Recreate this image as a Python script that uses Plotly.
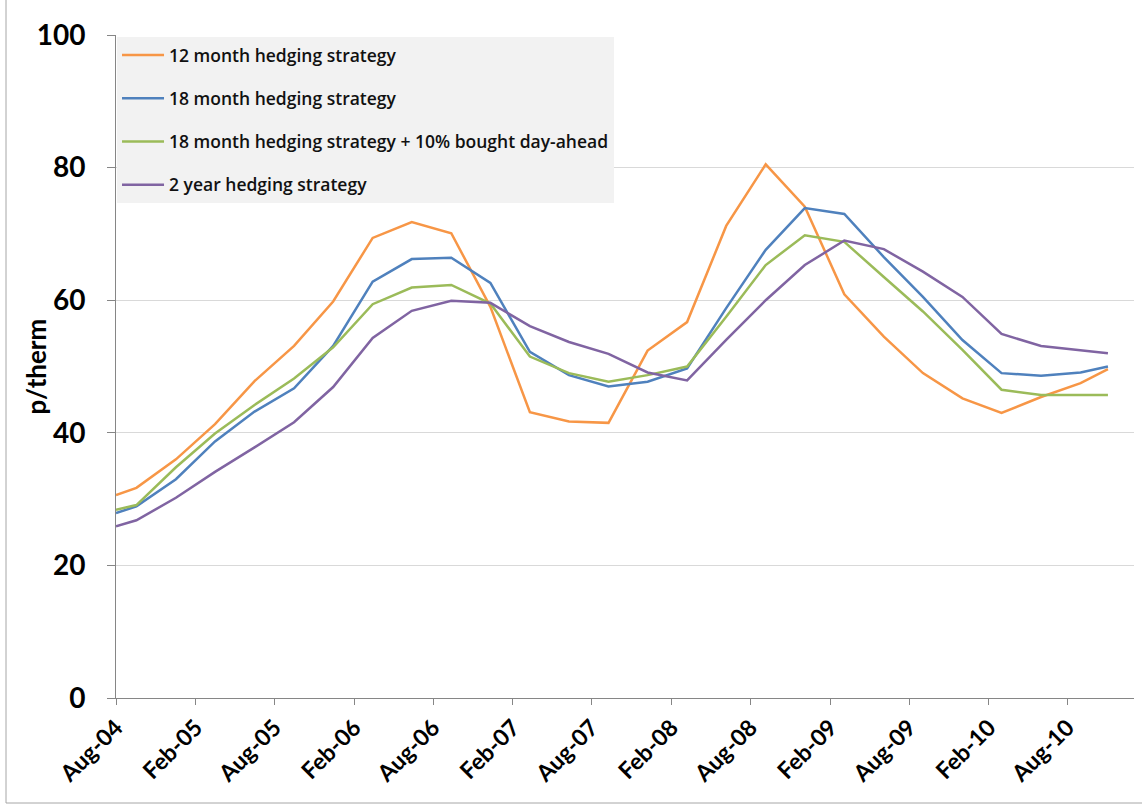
import plotly.graph_objects as go

# Sample dates (roughly quarterly observations)
dates = [
    "2004-08-01", "2004-09-17", "2004-12-17", "2005-03-17", "2005-06-16",
    "2005-09-15", "2005-12-14", "2006-03-15", "2006-06-13", "2006-09-12",
    "2006-12-11", "2007-03-12", "2007-06-10", "2007-09-09", "2007-12-08",
    "2008-03-08", "2008-06-06", "2008-09-05", "2008-12-04", "2009-03-05",
    "2009-06-04", "2009-09-02", "2009-12-02", "2010-03-02", "2010-06-01",
    "2010-08-31", "2010-11-02",
]

# Average cost in p/therm for each hedging strategy
hedge_12m = [
    30.6, 31.7, 36.0, 41.3, 47.8, 53.1, 59.8, 69.4, 71.8, 70.1,
    59.0, 43.1, 41.7, 41.5, 52.4, 56.7, 71.2, 80.5, 74.1, 60.9,
    54.5, 49.0, 45.2, 43.0, 45.4, 47.5, 49.6,
]
hedge_18m = [
    27.9, 28.9, 33.0, 38.7, 43.2, 46.7, 53.1, 62.8, 66.2, 66.4,
    62.6, 52.2, 48.7, 47.0, 47.7, 49.7, 58.8, 67.6, 73.9, 73.0,
    66.5, 60.5, 54.0, 49.0, 48.6, 49.1, 50.0,
]
hedge_18m_da = [
    28.4, 29.1, 34.8, 39.9, 44.2, 48.2, 52.9, 59.4, 61.9, 62.3,
    59.5, 51.5, 49.0, 47.7, 48.7, 50.0, 57.5, 65.3, 69.8, 68.8,
    63.5, 58.3, 52.5, 46.5, 45.7, 45.7, 45.7,
]
hedge_2y = [
    25.9, 26.8, 30.2, 34.1, 37.8, 41.6, 46.9, 54.3, 58.4, 59.9,
    59.6, 56.1, 53.7, 51.9, 49.1, 47.9, 54.0, 60.0, 65.3, 69.0,
    67.7, 64.3, 60.5, 54.9, 53.1, 52.4, 52.0,
]

series_names = [
    "12 month hedging strategy",
    "18 month hedging strategy",
    "18 month hedging strategy + 10% bought day-ahead",
    "2 year hedging strategy",
]
series_values = [hedge_12m, hedge_18m, hedge_18m_da, hedge_2y]
series_colors = ["#F79646", "#4F81BD", "#9BBB59", "#8064A2"]

fig = go.Figure()
for i, (name, vals, col) in enumerate(zip(series_names, series_values, series_colors)):
    fig.add_trace(go.Scatter(
        x=dates, y=vals, mode="lines", name=name,
        legendgroup=f"g{i}",
        line=dict(color=col, width=2.5),
    ))

W, H = 1142, 808
ml, mr, mt, mb = 116, 8, 35, 110
pw, ph = W - ml - mr, H - mt - mb

fig.update_layout(
    width=W, height=H,
    margin=dict(l=ml, r=mr, t=mt, b=mb),
    paper_bgcolor="white",
    plot_bgcolor="white",
    font=dict(family="Lato", color="#000000"),
    showlegend=True,
    legend=dict(
        x=0.001, y=1 - 2 / ph, xanchor="left", yanchor="top",
        bgcolor="#F2F2F2",
        borderwidth=0,
        font=dict(family="Open Sans", size=17.5, color="#111111", weight=600),
        traceorder="grouped",
        tracegroupgap=17.5,
        itemwidth=42,
    ),
    xaxis=dict(
        type="date",
        range=["2004-08-01", "2011-01-01"],
        tick0="2004-08-01",
        dtick="M6",
        tickformat="%b-%y",
        tickangle=-45,
        ticks="outside",
        ticklen=6,
        tickcolor="#868686",
        showline=True,
        linecolor="#868686",
        linewidth=1,
        showgrid=False,
        zeroline=False,
        tickfont=dict(family="Lato", size=23, weight="bold", color="#000000"),
    ),
    yaxis=dict(
        range=[0, 100],
        dtick=20,
        ticks="outside",
        ticklen=8,
        tickcolor="#868686",
        showline=True,
        linecolor="#868686",
        linewidth=1,
        showgrid=True,
        gridcolor="#D9D9D9",
        gridwidth=1,
        zeroline=False,
        ticklabelstandoff=16,
        tickfont=dict(family="Lato", size=28, weight="bold", color="#000000"),
    ),
)

# Y-axis title
fig.add_annotation(
    text="p/therm", textangle=-90, showarrow=False,
    xref="paper", yref="paper", x=(35 - ml) / pw, y=0.5,
    xanchor="center", yanchor="middle",
    font=dict(family="Lato", size=26, weight="bold", color="#000000"),
)

# Chart-area frame (left and bottom edges)
fx = (6 - ml) / pw
fy = (H - mb - 803) / ph
fig.add_shape(type="line", xref="paper", yref="paper",
              x0=fx, x1=fx, y0=fy, y1=1 + mt / ph,
              line=dict(color="#A6A6A6", width=1))
fig.add_shape(type="line", xref="paper", yref="paper",
              x0=fx, x1=1 + mr / pw, y0=fy, y1=fy,
              line=dict(color="#A6A6A6", width=1))

fig.write_html("out.html")
